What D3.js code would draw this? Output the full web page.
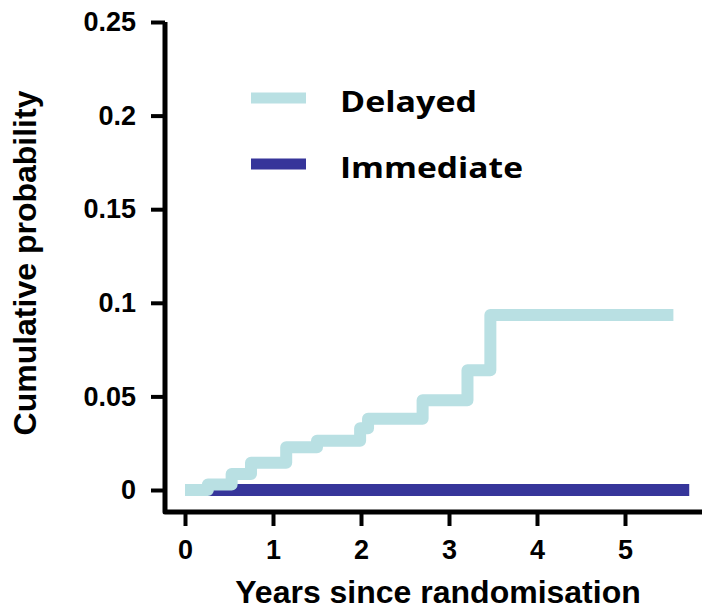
<!DOCTYPE html>
<html>
<head>
<meta charset="utf-8">
<script src="https://cdn.jsdelivr.net/npm/d3@7"></script>
<style>
  body { margin: 0; background: #fff; }
  svg { display: block; }
</style>
</head>
<body>
<div id="container"></div>
<script>
// Step data (years, cumulative probability)
var delayedYears = [0, 0.26, 0.53, 0.75, 1.15, 1.50, 1.99, 2.08, 2.70, 3.21, 3.47, 5.55];
var delayedProb  = [0, 0.003, 0.0085, 0.0146, 0.0228, 0.0263, 0.033, 0.038, 0.048, 0.064, 0.0935, 0.0935];
var immediateYears = [0, 5.73];
var immediateProb  = [0, 0];

var seriesNames = ["Delayed", "Immediate"];
var seriesColors = ["#b9e0e3", "#36359a"];

var xTicks = [0, 1, 2, 3, 4, 5];
var yTicks = [0, 0.05, 0.1, 0.15, 0.2, 0.25];
var yTickLabels = ["0", "0.05", "0.1", "0.15", "0.2", "0.25"];

var width = 702, height = 610;
var boldFont = "'Liberation Sans', Arial, sans-serif";

var svg = d3.select("#container")
  .append("svg")
  .attr("width", width)
  .attr("height", height);

// Scales
var x = d3.scaleLinear().domain([0, 5]).range([185, 625]);
var y = d3.scaleLinear().domain([0, 0.25]).range([490, 22]);

var axisX0 = 165, axisY0 = 512;

// Y axis
var yAxis = svg.append("g")
  .attr("transform", "translate(" + axisX0 + ",0)")
  .call(d3.axisLeft(y).tickValues(yTicks)
    .tickFormat(function(d, i) { return yTickLabels[i]; })
    .tickSize(14).tickPadding(15));
yAxis.select(".domain").remove();
yAxis.selectAll(".tick line").attr("stroke", "#000").attr("stroke-width", 4);
yAxis.selectAll(".tick text")
  .attr("fill", "#000")
  .attr("font-family", boldFont)
  .attr("font-weight", "bold")
  .attr("font-size", 27);

// X axis
var xAxis = svg.append("g")
  .attr("transform", "translate(0," + axisY0 + ")")
  .call(d3.axisBottom(x).tickValues(xTicks)
    .tickFormat(d3.format("d"))
    .tickSize(14).tickPadding(14));
xAxis.select(".domain").remove();
xAxis.selectAll(".tick line").attr("stroke", "#000").attr("stroke-width", 4);
xAxis.selectAll(".tick text")
  .attr("fill", "#000")
  .attr("font-family", boldFont)
  .attr("font-weight", "bold")
  .attr("font-size", 27);

// Axis lines (L-shaped frame)
svg.append("path")
  .attr("d", "M" + axisX0 + "," + y(0.25) + "V" + axisY0 + "H" + width)
  .attr("fill", "none")
  .attr("stroke", "#000")
  .attr("stroke-width", 5)
  .attr("stroke-linejoin", "round");

// Step lines
var line = d3.line()
  .x(function(d) { return x(d[0]); })
  .y(function(d) { return y(d[1]); })
  .curve(d3.curveStepAfter);

var immediateData = d3.zip(immediateYears, immediateProb);
var delayedData = d3.zip(delayedYears, delayedProb);

svg.append("path")
  .datum(immediateData)
  .attr("d", line)
  .attr("fill", "none")
  .attr("stroke", seriesColors[1])
  .attr("stroke-width", 12);

svg.append("path")
  .datum(delayedData)
  .attr("d", line)
  .attr("fill", "none")
  .attr("stroke", seriesColors[0])
  .attr("stroke-width", 12)
  .attr("stroke-linejoin", "round");

// Legend
var legendWidths = [137, 183];
var legend = svg.append("g");
seriesNames.forEach(function(name, i) {
  var ly = 98 + i * 66;
  legend.append("line")
    .attr("x1", 251).attr("x2", 306)
    .attr("y1", ly).attr("y2", ly)
    .attr("stroke", seriesColors[i])
    .attr("stroke-width", 11);
  legend.append("text")
    .attr("x", 340).attr("y", ly + 14)
    .attr("textLength", legendWidths[i])
    .attr("lengthAdjust", "spacingAndGlyphs")
    .style("font-family", "'Open Sans', sans-serif")
    .style("font-weight", 700)
    .style("font-size", "29px")
    .text(name);
});

// Axis titles
svg.append("text")
  .attr("x", 438).attr("y", 603)
  .attr("text-anchor", "middle")
  .style("font-family", boldFont)
  .style("font-weight", "bold")
  .style("font-size", "32px")
  .text("Years since randomisation");

svg.append("text")
  .attr("transform", "translate(36,263) rotate(-90)")
  .attr("text-anchor", "middle")
  .style("font-family", boldFont)
  .style("font-weight", "bold")
  .style("font-size", "32px")
  .text("Cumulative probability");
</script>
</body>
</html>
